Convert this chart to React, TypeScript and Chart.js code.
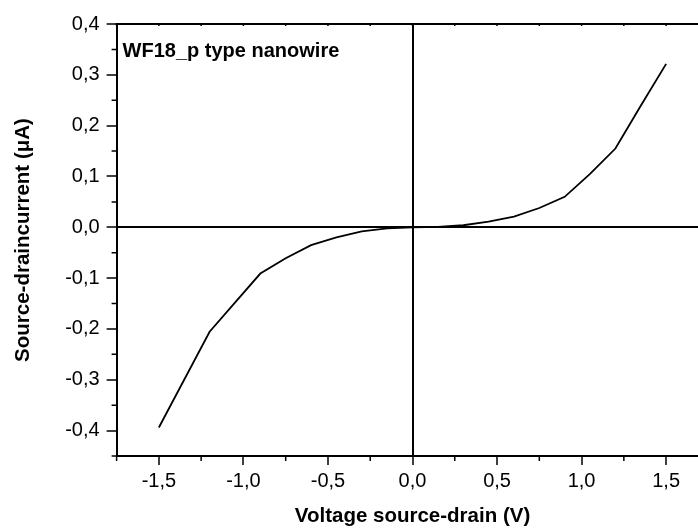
import React, { useEffect, useRef } from "react";
import { Chart, registerables } from "chart.js";

Chart.register(...registerables);

// ---- data ----
const voltage = [-1.5, -1.2, -0.9, -0.75, -0.6, -0.45, -0.3, -0.15, 0, 0.15, 0.3, 0.45, 0.6, 0.75, 0.9, 1.05, 1.2, 1.35, 1.5];
const current = [-0.394, -0.2055, -0.091, -0.061, -0.035, -0.02, -0.008, -0.002, 0, 0.001, 0.004, 0.011, 0.021, 0.038, 0.06, 0.105, 0.155, 0.239, 0.3215];

const xMajorTicks = [-1.5, -1.0, -0.5, 0.0, 0.5, 1.0, 1.5];
const xMinorTicks = [-1.75, -1.25, -0.75, -0.25, 0.25, 0.75, 1.25, 1.75];
const yMajorTicks = [-0.4, -0.3, -0.2, -0.1, 0.0, 0.1, 0.2, 0.3, 0.4];
const yMinorTicks = [-0.45, -0.35, -0.25, -0.15, -0.05, 0.05, 0.15, 0.25, 0.35];

const xTitle = "Voltage source-drain (V)";
const yTitle = "Source-draincurrent (\u03BCA)";
const annotation = "WF18_p type nanowire";

const FONT = "'Liberation Sans', Arial, Helvetica, sans-serif";

const fmt = (v: number) => Number(v).toFixed(1).replace(".", ",");

const framePlugin = {
  id: "frame",
  afterDraw(chart: any) {
    const { ctx, chartArea, scales } = chart;
    const x = scales.x;
    const y = scales.y;
    ctx.save();
    ctx.strokeStyle = "#000";
    // top border
    ctx.lineWidth = 2;
    ctx.beginPath();
    ctx.moveTo(chartArea.left - 1, chartArea.top);
    ctx.lineTo(chartArea.right, chartArea.top);
    ctx.stroke();
    // minor ticks
    ctx.lineWidth = 1.5;
    ctx.beginPath();
    xMinorTicks.forEach((v) => {
      const px = x.getPixelForValue(v);
      ctx.moveTo(px, chartArea.bottom);
      ctx.lineTo(px, chartArea.bottom + 5);
    });
    [...xMajorTicks, ...xMinorTicks].forEach((v) => {
      const px = x.getPixelForValue(v);
      ctx.moveTo(px, chartArea.top - 1);
      ctx.lineTo(px, chartArea.top + 2);
    });
    yMinorTicks.forEach((v) => {
      const py = y.getPixelForValue(v);
      ctx.moveTo(chartArea.left, py);
      ctx.lineTo(chartArea.left - 5, py);
    });
    ctx.stroke();
    // annotation
    ctx.fillStyle = "#000";
    ctx.font = `bold 20px ${FONT}`;
    ctx.textBaseline = "alphabetic";
    ctx.textAlign = "left";
    ctx.fillText(annotation, chartArea.left + 6, chartArea.top + 33);
    ctx.restore();
  },
};

export default function App() {
  const ref = useRef<HTMLCanvasElement | null>(null);
  useEffect(() => {
    if (!ref.current) return;
    const chart = new Chart(ref.current, {
      type: "line",
      data: {
        datasets: [
          {
            data: voltage.map((v, i) => ({ x: v, y: current[i] })),
            borderColor: "#000",
            borderWidth: 1.8,
            pointRadius: 0,
            tension: 0,
            fill: false,
          },
        ],
      },
      options: {
        animation: false,
        responsive: false,
        devicePixelRatio: 1,
        layout: { padding: { top: 24, right: 1.6, left: 0, bottom: 0 } },
        plugins: { legend: { display: false }, tooltip: { enabled: false } },
        scales: {
          x: {
            type: "linear",
            min: -1.75,
            max: 1.75,
            afterBuildTicks: (s: any) => {
              s.ticks = xMajorTicks.map((v) => ({ value: v }));
            },
            afterFit: (s: any) => {
              s.height = 73;
            },
            ticks: {
              callback: (v: any) => fmt(v),
              color: "#000",
              font: { family: FONT, size: 20 },
              padding: 4.3,
              maxRotation: 0,
              autoSkip: false,
            },
            grid: {
              color: (c: any) => (c.tick && c.tick.value === 0 ? "#000" : "rgba(0,0,0,0)"),
              lineWidth: 2,
              tickColor: "#000",
              tickWidth: 1.5,
              tickLength: 9,
              drawOnChartArea: true,
            },
            border: { display: true, color: "#000", width: 2 },
            title: {
              display: true,
              text: xTitle,
              color: "#000",
              font: { family: FONT, size: 20.5, weight: "bold" },
              padding: { top: 0, bottom: 0.7 },
            },
          },
          y: {
            type: "linear",
            min: -0.45,
            max: 0.4,
            afterBuildTicks: (s: any) => {
              s.ticks = yMajorTicks.map((v) => ({ value: v }));
            },
            afterFit: (s: any) => {
              s.width = 116.6;
            },
            ticks: {
              callback: (v: any) => fmt(v),
              color: "#000",
              font: { family: FONT, size: 20 },
              padding: 7,
              autoSkip: false,
            },
            grid: {
              color: (c: any) => (c.tick && c.tick.value === 0 ? "#000" : "rgba(0,0,0,0)"),
              lineWidth: 2,
              tickColor: "#000",
              tickWidth: 1.5,
              tickLength: 10,
              drawOnChartArea: true,
            },
            border: { display: true, color: "#000", width: 2 },
            title: {
              display: true,
              text: yTitle,
              color: "#000",
              font: { family: FONT, size: 20.5, weight: "bold" },
              padding: { top: 10.7, bottom: 0 },
            },
          },
        },
      },
      plugins: [framePlugin],
    } as any);
    return () => chart.destroy();
  }, []);

  return (
    <div
      style={{
        position: "fixed",
        left: 0,
        top: 0,
        width: 698,
        height: 529,
        overflow: "hidden",
        background: "#fff",
      }}
    >
      <div style={{ width: 710, height: 529 }}>
        <canvas ref={ref} width={710} height={529} style={{ display: "block" }} />
      </div>
    </div>
  );
}
